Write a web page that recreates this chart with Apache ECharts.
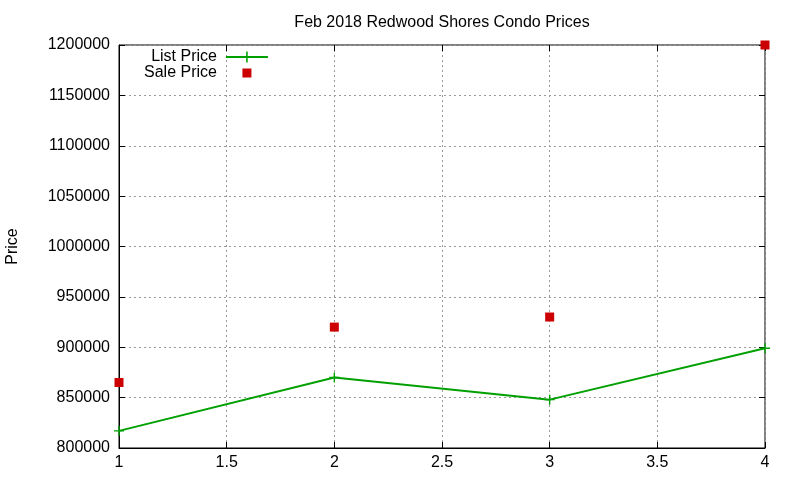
<!DOCTYPE html>
<html lang="en">
<head>
    <meta charset="UTF-8">
    <title>Feb 2018 Redwood Shores Condo Prices</title>
    <script src='https://cdn.jsdelivr.net/npm/echarts@6/dist/echarts.min.js'></script>
</head>
<body style="margin: 0">
<div id="chart" style="width: 800px;height: 480px"></div>
</body>

<script>
    // values
    let weeks = [1, 2, 3, 4];
    let listPrice = [817000, 870000, 848000, 899000];
    let salePrice = [865000, 920000, 930000, 1200000];

    let font = 'Liberation Sans, Arial, sans-serif';
    let plus = 'path://M4.3,0H5.7V4.3H10V5.7H5.7V10H4.3V5.7H0V4.3H4.3Z';
    // small red square centred in the legend slot
    let squareIcon = 'image://data:image/svg+xml;utf8,' + encodeURIComponent(
        '<svg xmlns="http://www.w3.org/2000/svg" width="42" height="14">' +
        '<rect x="16.5" y="2.5" width="9" height="9" fill="#cc0000"/></svg>');

    let chart = echarts.init(document.getElementById('chart'));

    let hidden = {
        axisLabel: { show: false },
        splitLine: { show: false },
        axisLine: { show: false },
        axisTick: { inside: true, length: 6, lineStyle: { color: '#000' } }
    };

    let option = {
        animation: false,
        backgroundColor: '#fff',
        title: {
            text: 'Feb 2018 Redwood Shores Condo Prices',
            left: 437,
            top: 10,
            textAlign: 'center',
            textStyle: { fontFamily: font, fontSize: 16, fontWeight: 'normal', color: '#000' }
        },
        legend: {
            orient: 'vertical',
            left: 139,
            top: 44,
            align: 'right',
            itemGap: 0,
            itemWidth: 42,
            itemHeight: 14,
            textStyle: { fontFamily: font, fontSize: 16, color: '#000', padding: [0, 4, 0, 0] },
            data: ['List Price', { name: 'Sale Price', icon: squareIcon }]
        },
        grid: {
            left: 119, right: 35, top: 45, bottom: 32,
            outerBoundsMode: 'none',
            containLabel: false,
            show: true, borderColor: '#000', borderWidth: 1
        },
        xAxis: [{
            type: 'value',
            min: 1, max: 4, interval: 0.5,
            axisLine: { lineStyle: { color: '#000' } },
            axisTick: { inside: true, length: 6, lineStyle: { color: '#000' } },
            axisLabel: { fontFamily: font, fontSize: 16, color: '#000', margin: 7 },
            splitLine: { lineStyle: { color: '#999', type: [2, 3] } }
        }, Object.assign({ type: 'value', position: 'top', min: 1, max: 4, interval: 0.5 }, hidden)],
        yAxis: [{
            type: 'value',
            name: 'Price',
            nameLocation: 'middle',
            nameGap: 98,
            nameTextStyle: { fontFamily: font, fontSize: 16, color: '#000' },
            min: 800000, max: 1200000, interval: 50000,
            axisLine: { lineStyle: { color: '#000' } },
            axisTick: { inside: true, length: 6, lineStyle: { color: '#000' } },
            axisLabel: { fontFamily: font, fontSize: 16, color: '#000', margin: 9, formatter: v => String(v) },
            splitLine: { lineStyle: { color: '#999', type: [2, 3] } }
        }, Object.assign({ type: 'value', position: 'right', min: 800000, max: 1200000, interval: 50000 }, hidden)],
        series: [
            {
                name: 'List Price',
                type: 'line',
                data: weeks.map((w, i) => [w, listPrice[i]]),
                symbol: plus,
                symbolSize: 10,
                showAllSymbol: true,
                lineStyle: { color: '#00a000', width: 2 },
                itemStyle: { color: '#00a000' },
                clip: false
            },
            {
                name: 'Sale Price',
                type: 'scatter',
                data: weeks.map((w, i) => [w, salePrice[i]]),
                symbol: 'rect',
                symbolSize: 9,
                itemStyle: { color: '#cc0000', opacity: 1 },
                clip: false
            }
        ]
    };

    chart.setOption(option);
</script>

</html>
